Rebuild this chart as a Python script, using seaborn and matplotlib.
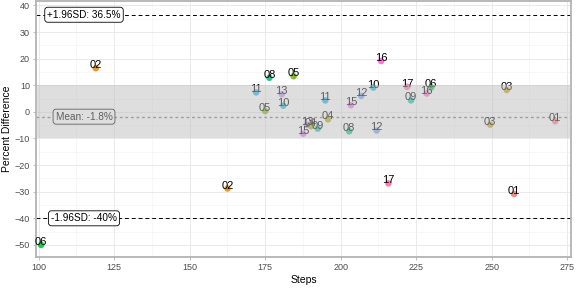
import numpy as np
import pandas as pd
import matplotlib
matplotlib.use("Agg")
import matplotlib.pyplot as plt
import seaborn as sns

# subject ids, steps and percent difference
subjects = ["06", "02", "02", "17", "01", "16", "08", "05", "11", "13",
            "10", "05", "11", "15", "12", "10", "04", "09", "15", "13",
            "04", "08", "12", "17", "06", "16", "09", "03", "03", "01"]
steps = [100.8, 118.9, 162.5, 215.8, 257.4, 213.4, 176.4, 184.4, 172.0, 180.5,
         181.0, 175.0, 194.9, 203.4, 206.8, 210.8, 195.8, 192.4, 187.6, 188.8,
         190.2, 202.8, 211.9, 222.0, 230.0, 228.5, 223.3, 255.0, 249.5, 271.0]
pct_diff = [-50.0, 16.4, -28.8, -26.9, -30.9, 19.1, 12.8, 13.4, 7.3, 6.6,
            2.3, 0.3, 4.3, 2.5, 6.0, 9.1, -2.8, -6.3, -8.2, -4.9,
            -5.4, -7.3, -7.0, 9.4, 9.2, 6.9, 4.3, 8.2, -4.8, -3.5]

mean_diff = -1.8
upper_loa = 36.5
lower_loa = -40
band = (-10, 10)

df = pd.DataFrame({"subject": subjects, "steps": steps, "diff": pct_diff})
levels = sorted(df["subject"].unique())


def hcl(h, c=100, l=65):
    # ggplot-style hue colour (polar LUV -> sRGB)
    h = np.deg2rad(h)
    u, v = c * np.cos(h), c * np.sin(h)
    xn, yn, zn = 95.047, 100.0, 108.883
    un = 4 * xn / (xn + 15 * yn + 3 * zn)
    vn = 9 * yn / (xn + 15 * yn + 3 * zn)
    y = yn * ((l + 16) / 116) ** 3
    up = u / (13 * l) + un
    vp = v / (13 * l) + vn
    x = 9 * y * up / (4 * vp)
    z = -x / 3 - 5 * y + 3 * y / vp
    xyz = np.array([x, y, z]) / 100
    m = np.array([[3.2404542, -1.5371385, -0.4985314],
                  [-0.9692660, 1.8760108, 0.0415560],
                  [0.0556434, -0.2040259, 1.0572252]])
    rgb = m @ xyz
    rgb = np.where(rgb <= 0.0031308, 12.92 * rgb, 1.055 * np.abs(rgb) ** (1 / 2.4) - 0.055)
    return tuple(np.clip(rgb, 0, 1))


hues = np.linspace(15, 375, len(levels) + 1)[:-1]
palette = {lev: hcl(h) for lev, h in zip(levels, hues)}

plt.rcParams["font.family"] = ["Liberation Sans", "DejaVu Sans"]

fig = plt.figure(figsize=(5.76, 2.88), dpi=100)
ax = fig.add_axes([0.063, 0.108, 0.928, 0.887])

sns.scatterplot(data=df, x="steps", y="diff", hue="subject", palette=palette,
                s=22, alpha=0.85, edgecolor="none", legend=False, ax=ax, zorder=3)
for _, r in df.iterrows():
    ax.text(r["steps"], r["diff"], r["subject"], ha="center", va="baseline",
            fontsize=8, color="black", zorder=4)

ax.axhline(upper_loa, color="black", lw=0.7, ls=(0, (4, 3)), zorder=2)
ax.axhline(lower_loa, color="black", lw=0.7, ls=(0, (4, 3)), zorder=2)
ax.axhline(mean_diff, color="#7f7f7f", lw=1.0, ls=(0, (2, 2)), zorder=2)

box = dict(boxstyle="round,pad=0.25,rounding_size=0.3", fc="white", ec="black", lw=0.6)
ax.text(115, upper_loa, "+1.96SD: 36.5%", ha="center", va="center", fontsize=7.2, bbox=box, zorder=5)
ax.text(115, lower_loa, "-1.96SD: -40%", ha="center", va="center", fontsize=7.2, bbox=box, zorder=5)
ax.text(115, mean_diff, "Mean: -1.8%", ha="center", va="center", fontsize=7.2, bbox=box, zorder=5)

# grey band drawn over everything, as in the original
ax.axhspan(band[0], band[1], color="#bebebe", alpha=0.5, lw=0, zorder=6)

ax.set_xlim(99.2, 276.2)
ax.set_ylim(-54.5, 41.5)
ax.set_xticks(np.arange(100, 276, 25))
ax.set_yticks(np.arange(-50, 41, 10))
ax.set_xticks(np.arange(112.5, 276, 25), minor=True)
ax.set_yticks(np.arange(-45, 41, 10), minor=True)
ax.grid(True, which="major", color="#e6e6e6", lw=0.6)
ax.grid(True, which="minor", color="#f1f1f1", lw=0.4)
ax.set_axisbelow(True)
ax.tick_params(which="major", length=2.5, width=0.6, color="#b3b3b3",
               labelsize=6.5, labelcolor="#4d4d4d", pad=2)
ax.tick_params(which="minor", length=0)
for sp in ax.spines.values():
    sp.set_color("#b3b3b3")
    sp.set_linewidth(1.3)

ax.set_xlabel("Steps", fontsize=7.5, labelpad=2)
ax.set_ylabel("Percent Difference", fontsize=7.5, labelpad=2)

fig.savefig("out.png", dpi=100)
